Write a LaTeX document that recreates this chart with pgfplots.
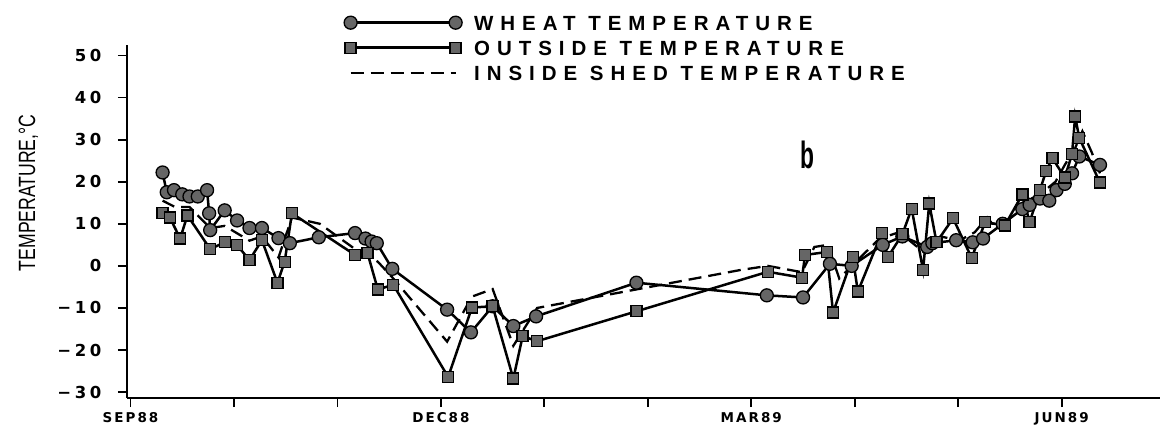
\documentclass[border=0pt]{standalone}
\usepackage{fontspec}
\setmainfont{Liberation Sans}
\newfontfamily\xtickfont[LetterSpace=15]{DejaVu Sans}
\newfontfamily\ytickfont[LetterSpace=22]{DejaVu Sans}
\newfontfamily\legfont[LetterSpace=34]{Liberation Sans}
\newfontfamily\labfont{Liberation Sans}
\usepackage{graphicx}
\usepackage{pgfplots}
\pgfplotsset{compat=1.18}
\definecolor{markgray}{gray}{0.40}
\begin{document}
\begin{tikzpicture}
\useasboundingbox (0,0) rectangle (1166bp,431bp);
\begin{axis}[
  at={(127bp,33bp)}, anchor=south west,
  scale only axis, width=1033bp, height=353bp,
  xmin=-0.034, xmax=9.95, ymin=-31.4, ymax=52.5,
  axis x line=bottom, axis y line=left,
  axis line style={-},
  x axis line style={line width=2.8bp},
  y axis line style={line width=2bp},
  tick align=outside,
  major tick length=9bp,
  every tick/.style={black, line width=1.8bp},
  xtick style={black, line width=1.8bp},
  ytick style={black, line width=1.8bp},
  xtick={0,1,2,3,4,5,6,7,8,9},
  xticklabels={SEP88,,,DEC88,,,MAR89,,,JUN89},
  ytick={-30,-20,-10,0,10,20,30,40,50},
  yticklabels={{−30},{−20},{−10},0,10,20,30,40,50},
  xticklabel style={font=\xtickfont\bfseries\fontsize{13.5bp}{14bp}\selectfont, yshift=-2bp},
  yticklabel style={font=\ytickfont\bfseries\fontsize{16.5bp}{18bp}\selectfont, xshift=-13bp},
  ylabel={\scalebox{0.75}[1]{TEMPERATURE,°C}},
  ylabel style={font=\labfont\fontsize{23.5bp}{24bp}\selectfont, at={(axis description cs:-0.0954,0.581)}, anchor=center},
  clip=false,
  legend cell align=left,
  legend style={at={(axis description cs:0.210,1.085)}, anchor=north west, draw=none, fill=none,
    inner sep=0pt, row sep=10bp, column sep=12bp,
    font=\legfont\bfseries\fontsize{20.5bp}{21bp}\selectfont,
    nodes={inner sep=0pt, text height=15bp, text depth=0bp}},
  legend image code/.code={\draw[#1, mark repeat=1] plot coordinates {(0bp,0bp) (105bp,0bp)};},
]
\addplot[black, line width=2.5bp, mark=*, mark size=6.5bp,
  mark options={fill=markgray, draw=black, line width=1.3bp, solid}] coordinates {
(0.31,22.2) (0.35,17.5) (0.42,18.0) (0.50,17.0) (0.57,16.5) (0.65,16.5) (0.74,18.0)
(0.76,12.5) (0.77,8.5) (0.91,13.2) (1.03,10.8) (1.15,9.0) (1.27,9.0) (1.43,6.6)
(1.54,5.4) (1.82,6.8) (2.17,7.8) (2.27,6.5) (2.33,5.8) (2.38,5.4) (2.53,-0.7)
(3.06,-10.4) (3.29,-15.8) (3.50,-9.6) (3.70,-14.3) (3.92,-12.0) (4.89,-4.0)
(6.15,-7.0) (6.50,-7.5) (6.76,0.5) (6.97,0.0) (7.27,5.0) (7.46,7.0) (7.70,4.5)
(7.75,5.4) (7.98,6.1) (8.14,5.6) (8.24,6.5) (8.43,10.0) (8.62,13.5) (8.69,14.5)
(8.79,16.0) (8.88,15.5) (8.95,18.0) (9.03,19.5) (9.10,22.0) (9.17,26.0) (9.37,24.0)
};
\addlegendentry{WHEAT TEMPERATURE}
\addplot[black, line width=2.5bp, mark=square*, mark size=5.5bp,
  mark options={fill=markgray, draw=black, line width=1.3bp, solid}] coordinates {
(0.31,12.5) (0.38,11.5) (0.48,6.5) (0.55,12.0) (0.77,4.0) (0.91,5.6) (1.03,4.9)
(1.15,1.4) (1.27,6.1) (1.42,-4.0) (1.49,1.0) (1.56,12.5) (2.17,2.6) (2.29,3.1)
(2.39,-5.6) (2.54,-4.5) (3.07,-26.4) (3.30,-9.9) (3.50,-9.6) (3.70,-26.8)
(3.79,-16.7) (3.93,-17.9) (4.89,-10.8) (6.16,-1.4) (6.49,-2.8) (6.52,2.6)
(6.73,3.3) (6.79,-11.1) (6.98,2.1) (7.03,-6.1) (7.26,7.8) (7.32,2.1) (7.46,7.5)
(7.55,13.6) (7.66,-1.0) (7.72,14.8) (7.79,5.6) (7.95,11.3) (8.13,1.9) (8.26,10.4)
(8.45,9.6) (8.62,17.0) (8.69,10.4) (8.79,18.0) (8.85,22.6) (8.91,25.6) (9.03,21.0)
(9.10,26.6) (9.13,35.5) (9.17,30.4) (9.37,19.8)
};
\addlegendentry{OUTSIDE TEMPERATURE}
\addplot[black, line width=2.3bp, dash pattern=on 13bp off 7bp] coordinates {
(0.31,15.5) (0.43,14) (0.57,14) (0.77,9) (0.91,9.5) (1.15,6) (1.27,7) (1.43,2)
(1.56,11.5) (1.83,10) (2.17,4) (2.39,1) (2.54,-3) (3.06,-18) (3.30,-7.3)
(3.50,-5.5) (3.70,-19) (3.93,-10) (5.89,-1) (6.16,0) (6.49,-1.5) (6.61,4.5)
(6.74,5) (6.85,-3) (6.97,0) (7.24,6.5) (7.43,8) (7.68,3) (7.83,7) (8.01,6)
(8.16,8) (8.28,11.5) (8.33,10) (8.45,10) (8.62,15) (8.79,17) (8.94,20) (9.03,24)
(9.13,28) (9.20,32) (9.29,27) (9.37,22)
};
\addlegendentry{INSIDE SHED TEMPERATURE}
\node[font=\labfont\bfseries\fontsize{38bp}{38bp}\selectfont] at (axis cs:6.54,26.4) {\scalebox{0.6}[1]{b}};
\end{axis}
\end{tikzpicture}
\end{document}
